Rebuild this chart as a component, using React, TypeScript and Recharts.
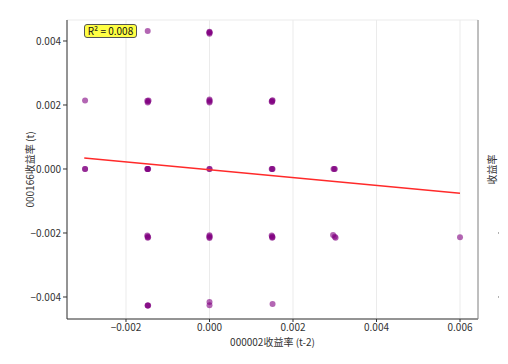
import React from "react"
import {
  ScatterChart,
  Scatter,
  XAxis,
  YAxis,
  CartesianGrid,
  Label,
} from "recharts"

// 散点：000002收益率(t-2) 对 000166收益率(t)
const xs = [
  -0.00298, -0.00298, -0.00298,
  -0.00148, -0.00149, -0.00147, -0.00148, -0.00146,
  -0.00149, -0.00148, -0.00147, -0.00148,
  -0.00149, -0.00148, -0.00147, -0.00148,
  -0.00148, -0.00147, -0.00148,
  0.0, 0.0, 0.0, 0.0,
  0.0, 0.0, 0.0, 0.0,
  0.0, 0.0,
  0.0, 0.0, 0.0, 0.0,
  0.0, 0.0,
  0.00149, 0.0015, 0.00151, 0.0015,
  0.00149, 0.0015, 0.00151,
  0.00149, 0.0015, 0.00151, 0.0015,
  0.00151,
  0.00297, 0.00299, 0.003,
  0.00296, 0.003, 0.00302,
  0.006,
]
const ys = [
  0.00214, 0.0, 0.0,
  0.00431, 0.00213, 0.00211, 0.00208, 0.00214,
  0.0, 0.0, 0.0, 0.0,
  -0.00208, -0.00211, -0.00213, -0.00215,
  -0.00427, -0.00427, -0.00427,
  0.00423, 0.00426, 0.00429, 0.00427,
  0.00208, 0.00211, 0.00214, 0.00217,
  0.0, 0.0,
  -0.00207, -0.0021, -0.00213, -0.00216,
  -0.00416, -0.00426,
  0.00211, 0.00213, 0.00215, 0.00209,
  0.0, 0.0, 0.0,
  -0.00208, -0.00211, -0.00213, -0.00215,
  -0.00422,
  0.0, 0.0, 0.0,
  -0.00206, -0.00212, -0.00215,
  -0.00213,
]

// 回归线两端
const fitX = [-0.003, 0.006]
const fitY = [0.00034, -0.00076]

const xTicks = [-0.002, 0.0, 0.002, 0.004, 0.006]
const yTicks = [-0.004, -0.002, 0.0, 0.002, 0.004]
const rightTicks = [-0.004, -0.002]
const r2Text = "R² = 0.008"

const points = xs.map((x, i) => ({ x, y: ys[i] }))
const fitLine = fitX.map((x, i) => ({ x, y: fitY[i] }))

const xDomain: [number, number] = [-0.003413, 0.006431]
const yDomain: [number, number] = [-0.004688, 0.004656]

const font = "'Noto Sans CJK SC', 'DejaVu Sans', sans-serif"
const fmt = (v: number) => v.toFixed(3).replace("-", "−")

function Dot(props: any) {
  const { cx, cy } = props
  if (cx == null || cy == null) return null
  return <circle cx={cx} cy={cy} r={3} fill="#800080" fillOpacity={0.6} />
}

function RightTick(props: any) {
  const { x, y } = props
  return <rect x={x + 12} y={y - 0.5} width={1} height={1} fill="#666" />
}

export default function App() {
  return (
    <div style={{ position: "absolute", left: 0, top: 0, width: 508, height: 364, background: "#fff" }}>
      <ScatterChart
        width={508}
        height={364}
        margin={{ top: 20, right: 0, bottom: 15, left: 0 }}
        style={{ fontFamily: font }}
      >
        <CartesianGrid stroke="#ebebeb" strokeWidth={1} />
        <XAxis
          type="number"
          dataKey="x"
          domain={xDomain}
          ticks={xTicks}
          tickFormatter={fmt}
          allowDataOverflow
          height={30}
          stroke="#333"
          tick={{ fontSize: 10, fill: "#333" }}
          tickSize={3}
        >
          <Label value="000002收益率 (t-2)" position="insideBottom" offset={3} style={{ fontSize: 10, fill: "#333" }} />
        </XAxis>
        <YAxis
          yAxisId="left"
          type="number"
          dataKey="y"
          domain={yDomain}
          ticks={yTicks}
          tickFormatter={fmt}
          allowDataOverflow
          width={67}
          stroke="#333"
          tick={{ fontSize: 10, fill: "#333" }}
          tickSize={4}
        >
          <Label value="000166收益率 (t)" angle={-90} position="insideLeft" offset={30} style={{ fontSize: 10, fill: "#333", textAnchor: "middle" }} />
        </YAxis>
        <YAxis
          yAxisId="right"
          orientation="right"
          type="number"
          domain={yDomain}
          ticks={rightTicks}
          allowDataOverflow
          width={30}
          stroke="#888"
          tickLine={false}
          tick={<RightTick />}
        >
          <Label value="收益率" angle={-90} position="insideRight" offset={16} style={{ fontSize: 10, fill: "#333", textAnchor: "middle" }} />
        </YAxis>
        <Scatter yAxisId="left" data={points} shape={<Dot />} isAnimationActive={false} />
        <Scatter
          yAxisId="left"
          data={fitLine}
          line={{ stroke: "#ff2a2a", strokeWidth: 1.5 }}
          shape={() => null}
          isAnimationActive={false}
        />
      </ScatterChart>
      <div
        style={{
          position: "absolute",
          left: 84,
          top: 24,
          width: 51,
          height: 12,
          background: "#ffff44",
          border: "1px solid #555",
          borderRadius: 3,
          fontFamily: font,
          fontSize: 10,
          lineHeight: "12px",
          textAlign: "center",
          color: "#111",
        }}
      >
        {r2Text}
      </div>
    </div>
  )
}
